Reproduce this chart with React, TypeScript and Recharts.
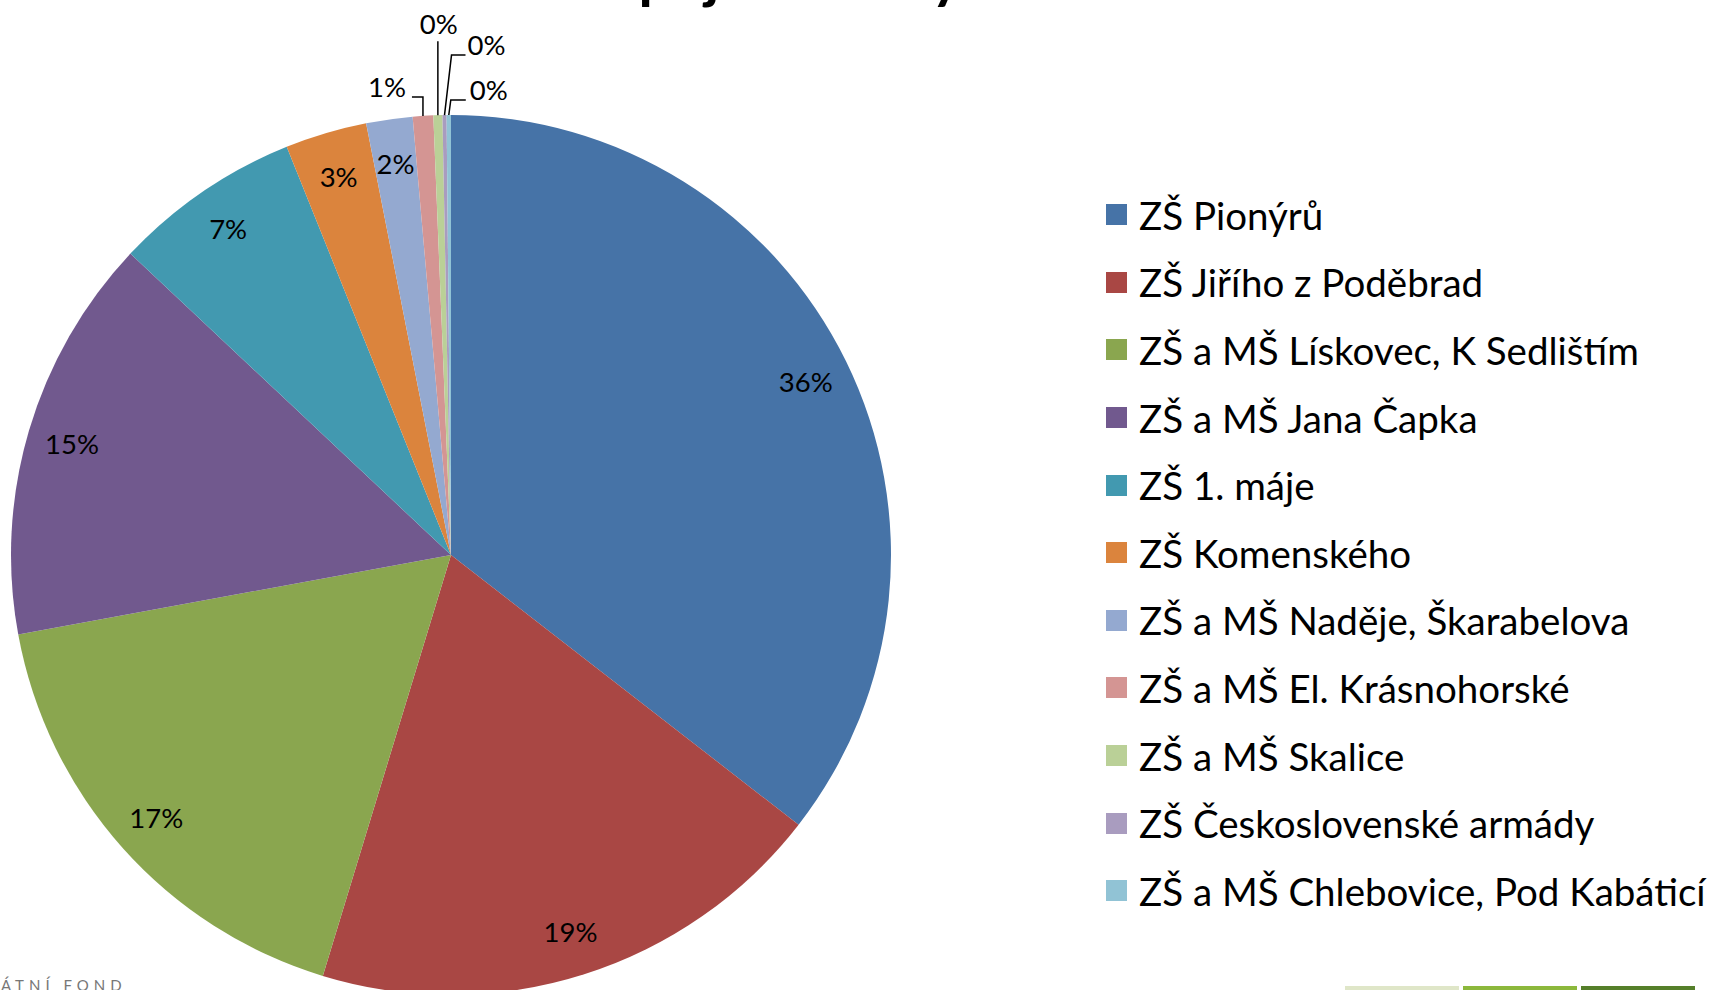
import React from 'react';
import { PieChart, Pie, Cell, Legend } from 'recharts';

// school names, share values (percent) and slice colours, clockwise from 12 o'clock
const schools = [
  'ZŠ Pionýrů',
  'ZŠ Jiřího z Poděbrad',
  'ZŠ a MŠ Lískovec, K Sedlištím',
  'ZŠ a MŠ Jana Čapka',
  'ZŠ 1. máje',
  'ZŠ Komenského',
  'ZŠ a MŠ Naděje, Škarabelova',
  'ZŠ a MŠ El. Krásnohorské',
  'ZŠ a MŠ Skalice',
  'ZŠ Československé armády',
  'ZŠ a MŠ Chlebovice, Pod Kabáticí',
];
const shares = [35.5, 19.2, 17.4, 14.9, 6.9, 3.0, 1.7, 0.75, 0.33, 0.15, 0.16];
const colors = [
  '#4673a7', '#a94744', '#8aa64f', '#71598e', '#4299b0', '#db843d',
  '#94a9d0', '#d49593', '#bad097', '#a99cbf', '#91c3d5',
];

const data = schools.map((name, i) => ({ name, value: shares[i] }));

// leader lines for the thin slices at the top: elbow and text offsets from the slice edge
const leaders: Record<number, { ex: number; ey: number; hx: number; tx: number; ty: number }> = {
  7: { ex: 0, ey: -19, hx: -11, tx: -36, ty: -29 },
  8: { ex: 0, ey: -74, hx: 0, tx: 1, ty: -92 },
  9: { ex: 7, ey: -60, hx: 21, tx: 42, ty: -71 },
  10: { ex: 2, ey: -15, hx: 17, tx: 40, ty: -26 },
};

const FONT = 'Lato, "Open Sans", sans-serif';
const RAD = Math.PI / 180;

const renderLabel = (props: any) => {
  const { cx, cy, midAngle, outerRadius, percent, index } = props;
  const txt = `${Math.round(percent * 100)}%`;
  const lead = leaders[index];
  if (!lead) {
    const r = outerRadius - 45;
    const x = cx + r * Math.cos(-midAngle * RAD);
    const y = cy + r * Math.sin(-midAngle * RAD);
    return (
      <text x={x} y={y} fill="#000" fontSize={27.5} fontFamily={FONT} textAnchor="middle" dominantBaseline="central">
        {txt}
      </text>
    );
  }
  const ax = cx + outerRadius * Math.cos(-midAngle * RAD);
  const ay = cy + outerRadius * Math.sin(-midAngle * RAD);
  const pts = `${ax},${ay} ${ax + lead.ex},${ay + lead.ey} ${ax + lead.hx},${ay + lead.ey}`;
  return (
    <g>
      <polyline points={pts} fill="none" stroke="#000" strokeWidth={1.5} />
      <text x={ax + lead.tx} y={ay + lead.ty} fill="#000" fontSize={27.5} fontFamily={FONT} textAnchor="middle" dominantBaseline="central">
        {txt}
      </text>
    </g>
  );
};

const renderLegend = () => (
  <div style={{ fontFamily: FONT }}>
    {schools.map((name, i) => (
      <div key={name} style={{ height: 67.6, display: 'flex', alignItems: 'center' }}>
        <span style={{ width: 21, height: 21, background: colors[i], marginRight: 12, flex: 'none' }} />
        <span style={{ fontSize: 38.5, color: '#000', whiteSpace: 'nowrap' }}>{name}</span>
      </div>
    ))}
  </div>
);

export default function App() {
  return (
    <div style={{ position: 'absolute', left: 0, top: 0, width: 1712, height: 990, overflow: 'hidden', background: '#fff' }}>
      <svg style={{ position: 'absolute', left: 0, top: 0 }} width={1712} height={20}>
        <text x={574} y={-3} fontSize={58} fontWeight={700} fontFamily={FONT} fill="#000">
          Zapojené školy
        </text>
      </svg>
      <PieChart width={1712} height={990} margin={{ top: 0, right: 0, bottom: 0, left: 0 }}>
        <Pie
          data={data}
          dataKey="value"
          nameKey="name"
          cx={451}
          cy={555}
          outerRadius={440}
          startAngle={90}
          endAngle={-270}
          stroke="none"
          label={renderLabel}
          labelLine={false}
          isAnimationActive={false}
        >
          {data.map((d, i) => (
            <Cell key={d.name} fill={colors[i]} />
          ))}
        </Pie>
        <Legend
          layout="vertical"
          content={renderLegend}
          wrapperStyle={{ left: 1106, top: 181, width: 606 }}
        />
      </PieChart>
      <div style={{ position: 'absolute', left: 1, top: 976, fontFamily: FONT, fontSize: 15, letterSpacing: 5, color: '#777' }}>
        ÁTNÍ FOND
      </div>
      <div style={{ position: 'absolute', left: 1345, top: 986, width: 114, height: 4, background: '#dfe6c8' }} />
      <div style={{ position: 'absolute', left: 1463, top: 986, width: 114, height: 4, background: '#8cb83c' }} />
      <div style={{ position: 'absolute', left: 1581, top: 986, width: 114, height: 4, background: '#557f2a' }} />
    </div>
  );
}
